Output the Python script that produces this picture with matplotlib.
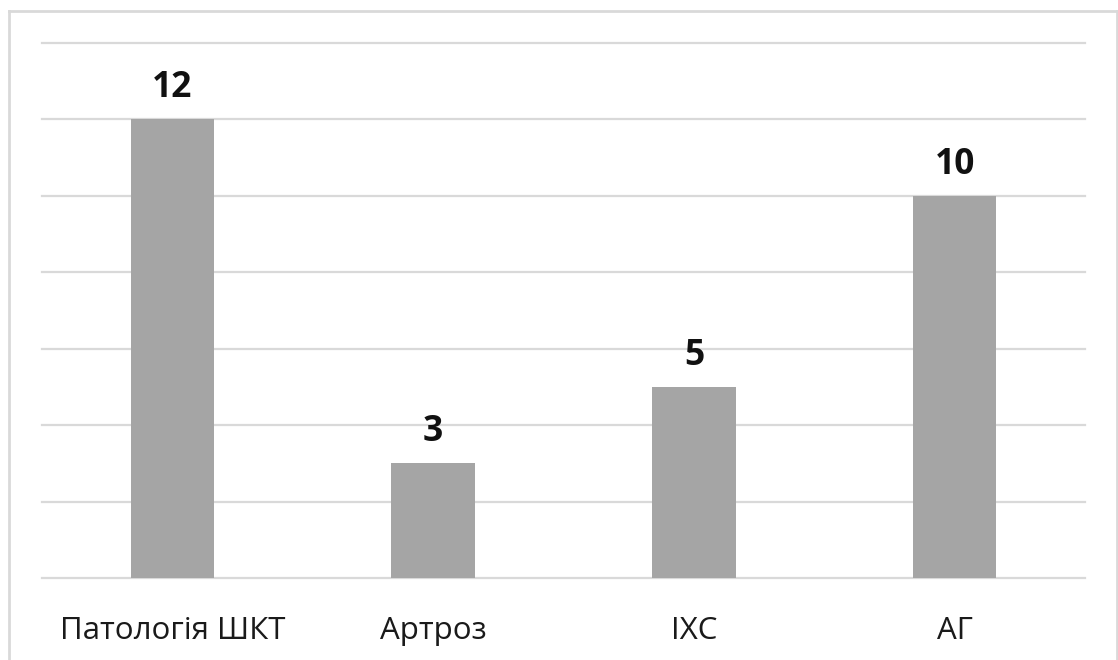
import matplotlib
matplotlib.use("Agg")
import matplotlib.pyplot as plt
from matplotlib.lines import Line2D

categories = ["Патологія ШКТ", "Артроз", "ІХС", "АГ"]
values = [12, 3, 5, 10]
y_max = 14
y_step = 2

bar_color = "#A5A5A5"
grid_color = "#D9D9D9"

plt.rcParams["font.family"] = ["Open Sans", "DejaVu Sans"]

fig = plt.figure(figsize=(11.18, 6.6), dpi=100)
ax = fig.add_axes([42 / 1118, 82 / 660, (1085 - 42) / 1118, (617 - 82) / 660])

x = list(range(len(categories)))
bars = ax.bar(x, values, width=0.32, color=bar_color, zorder=3)

ax.set_xlim(-0.5, len(categories) - 0.5)
ax.set_ylim(0, y_max)
ax.set_yticks(range(0, y_max + 1, y_step))
ax.yaxis.grid(True, color=grid_color, linewidth=1.6, zorder=0)
for gl in ax.get_ygridlines():
    gl.set_clip_on(False)
ax.tick_params(axis="y", left=False, labelleft=False)
ax.set_xticks(x)
ax.set_xticklabels(categories, fontsize=22.5, color="#1a1a1a")
ax.tick_params(axis="x", bottom=False, pad=24)
for s in ["top", "right", "left", "bottom"]:
    ax.spines[s].set_visible(False)

for rect, v in zip(bars, values):
    ax.annotate(str(v), (rect.get_x() + rect.get_width() / 2, v),
                xytext=(0, 16), textcoords="offset points",
                ha="center", va="baseline", fontsize=25.5, fontweight="bold",
                color="#111111")

# chart frame
frame_kw = dict(color=grid_color, linewidth=2.0, transform=fig.transFigure)
left, right, top = 8.5 / 1118, 1116.5 / 1118, 1 - 10.5 / 660
fig.add_artist(Line2D([left, right], [top, top], **frame_kw))
fig.add_artist(Line2D([left, left], [0, top], **frame_kw))
fig.add_artist(Line2D([right, right], [0, top], **frame_kw))

fig.savefig("out.png", dpi=100, facecolor="white")
